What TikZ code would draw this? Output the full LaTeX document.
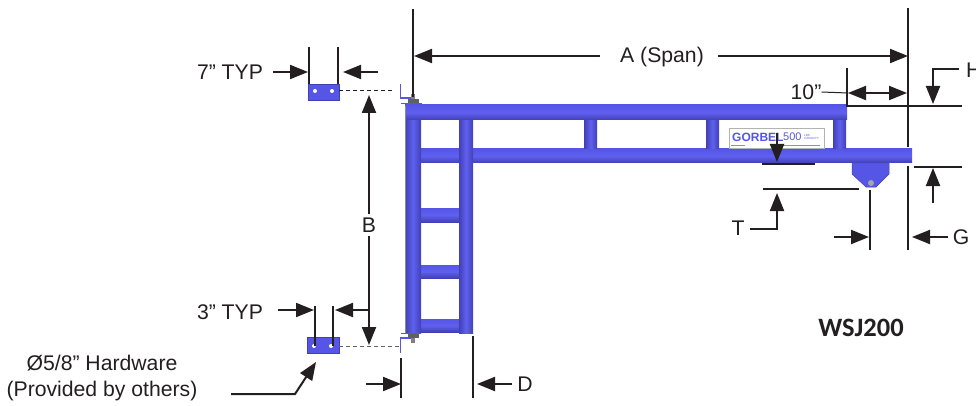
\documentclass[tikz,border=0pt]{standalone}
\usepackage{fontspec}
\setmainfont{Liberation Sans}
\newfontfamily\capfont{Carlito}
\usetikzlibrary{
    calc,
    arrows.meta
}
\definecolor{framecol}{HTML}{5656E6}
\definecolor{framelt}{HTML}{6060F0}
\definecolor{frameedge}{HTML}{4040B4}
\definecolor{inkcol}{HTML}{231F20}
\tikzset{
    tube/.style={top color=framecol,bottom color=frameedge,middle color=framelt},
    upright/.style={left color=frameedge,right color=frameedge,middle color=framelt},
    plate/.style={fill=framecol,draw=frameedge,line width=0.5pt},
    bolthole/.style={circle,fill=white,inner sep=0pt,minimum size=4pt},
    dim/.style={draw=inkcol,line width=2pt,->},
    ext/.style={draw=inkcol,line width=2pt},
    lbl/.style={text=inkcol,font=\fontsize{21.2}{26}\selectfont,inner sep=0pt},
    >={Triangle[length=18pt,width=14pt]}
}
\begin{document}
\begin{tikzpicture}[x=1pt,y=-1pt]
        \useasboundingbox (0,0) rectangle (976,406);
        \begin{scope}
            \path[tube] (419,149) rectangle (912,163);
            \path[upright] (584,120) rectangle (597,149);
            \path[upright] (706,120) rectangle (719,149);
            \path[upright] (833,120) rectangle (846,149);
            \path[tube] (421,208) rectangle (459,222);
            \path[tube] (421,265) rectangle (459,278);
            \path[tube] (421,319) rectangle (459,332);
            \path[upright] (459,120) rectangle (473,333);
            \path[upright] (405,104) rectangle (421,333);
            \path[tube] (405,105) rectangle (847,120);
            \draw[black!45,line width=0.7pt] (405,106) -- (405,333);

            \draw[fill=white,draw=black!30,line width=0.7pt] (729,128) rectangle (824,148);
            \draw (732,137) node[anchor=west,inner sep=0pt,text=framecol,font=\fontsize{12}{12}\selectfont\bfseries](gorbel){GORBEL};
            \draw (783,137) node[anchor=west,inner sep=0pt,text=framecol,font=\fontsize{11}{11}\selectfont](rating){500};
            \draw (804,137) node[anchor=west,inner sep=0pt,text=framecol,font=\fontsize{3}{3}\selectfont,align=left](cap){LBS\\CAPACITY};
            \draw[framecol!70,line width=0.6pt] (731,145) -- (745,145) (783,145) -- (820,145);

            \draw[plate] (852,163) -- (889,163) -- (889,174) -- (876,187) -- (866,187) -- (852,174) -- cycle;
            \fill[gray!70] (871,183) circle (3);

            \draw[plate] (308,84) rectangle (339,100);
            \draw (315,91) node[bolthole](h1){};
            \draw (332,91) node[bolthole](h2){};
            \draw[plate] (307,337) rectangle (339,353);
            \draw (314,346) node[bolthole](h3){};
            \draw (331,346) node[bolthole](h4){};

            \draw[framecol,line width=1.6pt] (400.5,84) -- (400.5,98) -- (411,98);
            \draw[framecol,line width=1.6pt] (401,103.5) -- (422,103.5);
            \fill[gray!75!black] (408,103) rectangle (419,99);
            \fill[gray] (411,99) rectangle (415,94);
            \draw[framecol,line width=1.6pt] (400.5,353) -- (400.5,338) -- (411,338);
            \draw[framecol,line width=1.6pt] (401,333.5) -- (421,333.5);
            \fill[gray!75!black] (408,334) rectangle (419,338);
            \fill[gray] (411,338) rectangle (415,343);
        \end{scope}

        \begin{scope}
            \coordinate (a1) at (413,9);   \coordinate (a2) at (413,97);
            \coordinate (a3) at (908,8);   \coordinate (a4) at (908,147);
            \coordinate (a5) at (414,56);  \coordinate (a6) at (908,56);
            \draw (662,57) node[lbl](span){A (Span)};
            \draw[ext] (a1) to (a2);
            \draw[ext] (a3) to (a4);
            \draw[dim] (span.west) ++(-20,-1) to (a5);
            \draw[dim] (span.east) ++(14,-1) to (a6);

            \coordinate (s1) at (309,47);  \coordinate (s2) at (309,84);
            \coordinate (s3) at (338,47);  \coordinate (s4) at (338,84);
            \coordinate (s5) at (308,72);  \coordinate (s6) at (378,72);
            \coordinate (s7) at (343,72);
            \draw (230,72) node[lbl](seven){7” TYP};
            \draw[ext] (s1) to (s2);
            \draw[ext] (s3) to (s4);
            \draw[dim] (seven.east) ++(10,0) to (s5);
            \draw[dim] (s6) to (s7);

            \coordinate (b1) at (339,91);  \coordinate (b2) at (393,91);
            \coordinate (b3) at (339,346); \coordinate (b4) at (399,346);
            \coordinate (b5) at (369,95);  \coordinate (b6) at (369,345);
            \draw (369,225) node[lbl](bee){B};
            \draw[inkcol,dash pattern=on 4pt off 3pt,line width=1pt] (b1) to (b2);
            \draw[inkcol!70,dash pattern=on 4pt off 3pt,line width=1pt] (b3) to (b4);
            \draw[dim] (bee.north) ++(0,-4) to (b5);
            \draw[dim] (bee.south) ++(0,4) to (b6);

            \coordinate (t1) at (315,306); \coordinate (t2) at (315,346);
            \coordinate (t3) at (333,306); \coordinate (t4) at (333,346);
            \coordinate (t5) at (314,310); \coordinate (t6) at (369,310);
            \coordinate (t7) at (335,310);
            \draw (230,312) node[lbl](three){3” TYP};
            \draw[ext,line width=1.6pt] (t1) to (t2);
            \draw[ext,line width=1.6pt] (t3) to (t4);
            \draw[dim] (three.east) ++(15,-2) to (t5);
            \draw[dim] (t6) to (t7);

            \coordinate (w1) at (231,394); \coordinate (w2) at (295,394);
            \coordinate (w3) at (316,362);
            \draw (102,378.5) node[lbl,align=center](hardware){Ø5/8” Hardware\\(Provided by others)};
            \draw[dim] (w1) -- (w2) -- (w3);

            \coordinate (d1) at (401,358); \coordinate (d2) at (401,398);
            \coordinate (d3) at (473,336); \coordinate (d4) at (473,398);
            \coordinate (d5) at (366,384); \coordinate (d6) at (401,384);
            \coordinate (d7) at (477,384);
            \draw (525,384) node[lbl](dee){D};
            \draw[ext] (d1) to (d2);
            \draw[ext] (d3) to (d4);
            \draw[dim] (d5) to (d6);
            \draw[dim] (dee.west) ++(-5,0) to (d7);

            \coordinate (c1) at (847,68);  \coordinate (c2) at (847,107);
            \coordinate (c3) at (847,106); \coordinate (c4) at (962,106);
            \coordinate (c5) at (848,93);  \coordinate (c6) at (907,93);
            \draw (806,92) node[lbl](ten){10”};
            \draw[ext] (c1) to (c2);
            \draw[ext] (c3) to (c4);
            \draw[inkcol,line width=1pt] (ten.east) to (c5);
            \draw[draw=inkcol,line width=2pt,<->] (c5) to (c6);

            \coordinate (e1) at (959,69);  \coordinate (e2) at (933,69);
            \coordinate (e3) at (933,104); \coordinate (e4) at (914,167);
            \coordinate (e5) at (962,167); \coordinate (e6) at (933,203);
            \coordinate (e7) at (933,168);
            \draw (966,70) node[lbl,anchor=west](aitch){H};
            \draw[dim] (e1) -- (e2) -- (e3);
            \draw[ext] (e4) to (e5);
            \draw[dim] (e6) to (e7);

            \coordinate (p1) at (762,164.5); \coordinate (p2) at (815,164.5);
            \coordinate (p3) at (777,133);   \coordinate (p4) at (777,162);
            \coordinate (p5) at (763,189);   \coordinate (p6) at (859,189);
            \coordinate (p7) at (777,229);   \coordinate (p8) at (777,193);
            \draw (738,228) node[lbl](tee){T};
            \draw[ext] (p1) to (p2);
            \draw[dim] (p3) to (p4);
            \draw[ext] (p5) to (p6);
            \draw[dim] (tee.east) ++(5,1) -- (p7) -- (p8);

            \coordinate (g1) at (870,190); \coordinate (g2) at (870,250);
            \coordinate (g3) at (908,166); \coordinate (g4) at (908,250);
            \coordinate (g5) at (834,237); \coordinate (g6) at (869,237);
            \coordinate (g7) at (912,237);
            \draw (961,237) node[lbl](gee){G};
            \draw[ext] (g1) to (g2);
            \draw[ext] (g3) to (g4);
            \draw[dim] (g5) to (g6);
            \draw[dim] (gee.west) ++(-5,0) to (g7);

            \draw (861,328) node[inner sep=0pt,text=inkcol,font=\capfont\bfseries\fontsize{26.5}{30}\selectfont](model){WSJ200};
        \end{scope}
    \end{tikzpicture}
\end{document}
